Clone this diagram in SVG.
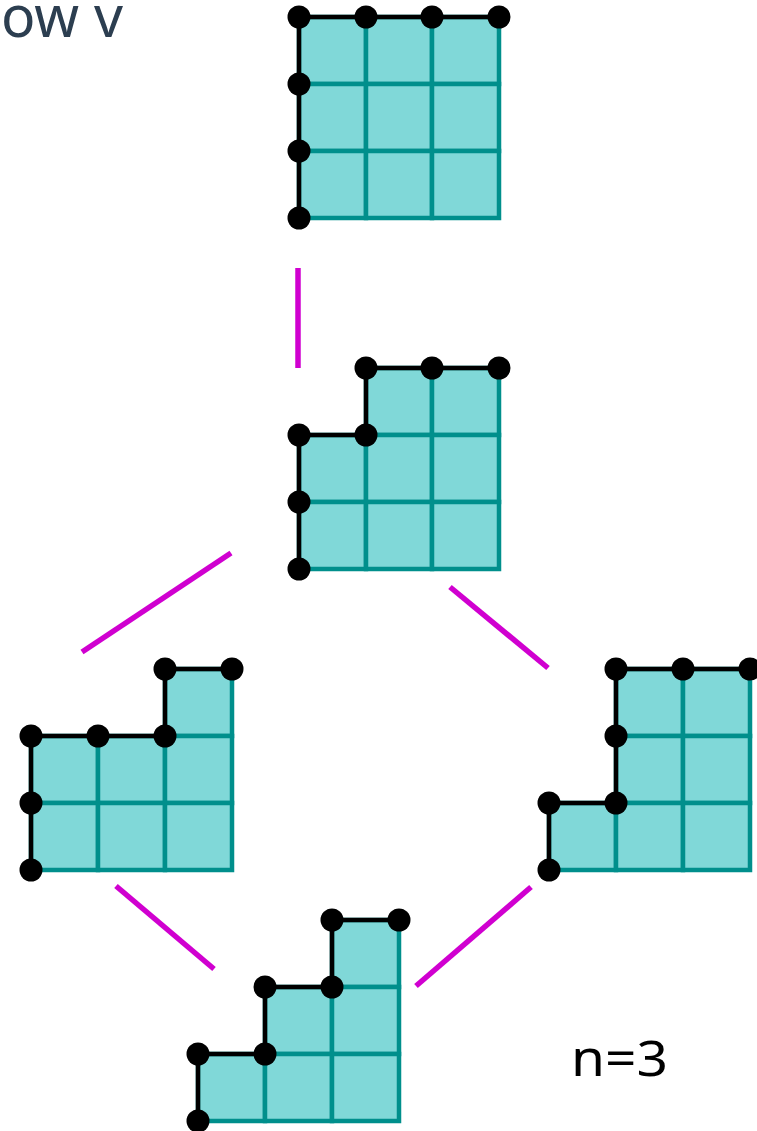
<svg xmlns="http://www.w3.org/2000/svg" width="757" height="1131" viewBox="0 0 757 1131">
<style>
.c{fill:#80D8D8;stroke:#008F8C;stroke-width:4.5}
.p{fill:none;stroke:#000;stroke-width:4.5;stroke-linejoin:miter}
.d{fill:#000}
.e{stroke:#D000D0;stroke-width:5.5;fill:none}
.t{font-family:"Noto Sans","DejaVu Sans",sans-serif;fill:#2C3E50}
</style>
<rect width="757" height="1131" fill="#fff"/>
<text class="t" x="1" y="37" font-size="58" textLength="122" lengthAdjust="spacingAndGlyphs">ow v</text>
<text x="571" y="1076" font-size="50" font-family="Noto Sans, DejaVu Sans, sans-serif" fill="#000" textLength="97" lengthAdjust="spacingAndGlyphs">n=3</text>
<g id="connectors">
<line class="e" x1="298" y1="268" x2="298" y2="368"/>
<line class="e" x1="231" y1="553" x2="82" y2="652"/>
<line class="e" x1="450" y1="587" x2="548" y2="668"/>
<line class="e" x1="116" y1="886" x2="214" y2="969"/>
<line class="e" x1="531" y1="887" x2="416" y2="986"/>
</g>
<g id="node1">
<rect class="c" x="299" y="17" width="67" height="67"/><rect class="c" x="366" y="17" width="66" height="67"/><rect class="c" x="432" y="17" width="67" height="67"/>
<rect class="c" x="299" y="84" width="67" height="67"/><rect class="c" x="366" y="84" width="66" height="67"/><rect class="c" x="432" y="84" width="67" height="67"/>
<rect class="c" x="299" y="151" width="67" height="67"/><rect class="c" x="366" y="151" width="66" height="67"/><rect class="c" x="432" y="151" width="67" height="67"/>
<polyline class="p" points="299,218 299,17 499,17"/>
<circle class="d" cx="299" cy="17" r="11.5"/><circle class="d" cx="366" cy="17" r="11.5"/><circle class="d" cx="432" cy="17" r="11.5"/><circle class="d" cx="499" cy="17" r="11.5"/>
<circle class="d" cx="299" cy="84" r="11.5"/><circle class="d" cx="299" cy="151" r="11.5"/><circle class="d" cx="299" cy="218" r="11.5"/>
</g>
<g id="node2">
<rect class="c" x="366" y="368" width="66" height="67"/><rect class="c" x="432" y="368" width="67" height="67"/>
<rect class="c" x="299" y="435" width="67" height="67"/><rect class="c" x="366" y="435" width="66" height="67"/><rect class="c" x="432" y="435" width="67" height="67"/>
<rect class="c" x="299" y="502" width="67" height="67"/><rect class="c" x="366" y="502" width="66" height="67"/><rect class="c" x="432" y="502" width="67" height="67"/>
<polyline class="p" points="299,569 299,435 366,435 366,368 499,368"/>
<circle class="d" cx="366" cy="368" r="11.5"/><circle class="d" cx="432" cy="368" r="11.5"/><circle class="d" cx="499" cy="368" r="11.5"/>
<circle class="d" cx="299" cy="435" r="11.5"/><circle class="d" cx="366" cy="435" r="11.5"/><circle class="d" cx="299" cy="502" r="11.5"/><circle class="d" cx="299" cy="569" r="11.5"/>
</g>
<g id="node3">
<rect class="c" x="165" y="669" width="67" height="67"/>
<rect class="c" x="31" y="736" width="67" height="67"/><rect class="c" x="98" y="736" width="67" height="67"/><rect class="c" x="165" y="736" width="67" height="67"/>
<rect class="c" x="31" y="803" width="67" height="67"/><rect class="c" x="98" y="803" width="67" height="67"/><rect class="c" x="165" y="803" width="67" height="67"/>
<polyline class="p" points="31,870 31,736 165,736 165,669 232,669"/>
<circle class="d" cx="165" cy="669" r="11.5"/><circle class="d" cx="232" cy="669" r="11.5"/>
<circle class="d" cx="31" cy="736" r="11.5"/><circle class="d" cx="98" cy="736" r="11.5"/><circle class="d" cx="165" cy="736" r="11.5"/>
<circle class="d" cx="31" cy="803" r="11.5"/><circle class="d" cx="31" cy="870" r="11.5"/>
</g>
<g id="node4">
<rect class="c" x="616" y="669" width="67" height="67"/><rect class="c" x="683" y="669" width="67" height="67"/>
<rect class="c" x="616" y="736" width="67" height="67"/><rect class="c" x="683" y="736" width="67" height="67"/>
<rect class="c" x="549" y="803" width="67" height="67"/><rect class="c" x="616" y="803" width="67" height="67"/><rect class="c" x="683" y="803" width="67" height="67"/>
<polyline class="p" points="549,870 549,803 616,803 616,669 750,669"/>
<circle class="d" cx="616" cy="669" r="11.5"/><circle class="d" cx="683" cy="669" r="11.5"/><circle class="d" cx="750" cy="669" r="11.5"/>
<circle class="d" cx="616" cy="736" r="11.5"/><circle class="d" cx="549" cy="803" r="11.5"/><circle class="d" cx="616" cy="803" r="11.5"/><circle class="d" cx="549" cy="870" r="11.5"/>
</g>
<g id="node5">
<rect class="c" x="332" y="920" width="67" height="67"/>
<rect class="c" x="265" y="987" width="67" height="67"/><rect class="c" x="332" y="987" width="67" height="67"/>
<rect class="c" x="198" y="1054" width="67" height="67"/><rect class="c" x="265" y="1054" width="67" height="67"/><rect class="c" x="332" y="1054" width="67" height="67"/>
<polyline class="p" points="198,1121 198,1054 265,1054 265,987 332,987 332,920 399,920"/>
<circle class="d" cx="332" cy="920" r="11.5"/><circle class="d" cx="399" cy="920" r="11.5"/>
<circle class="d" cx="265" cy="987" r="11.5"/><circle class="d" cx="332" cy="987" r="11.5"/>
<circle class="d" cx="198" cy="1054" r="11.5"/><circle class="d" cx="265" cy="1054" r="11.5"/><circle class="d" cx="198" cy="1121" r="11.5"/>
</g>
</svg>
